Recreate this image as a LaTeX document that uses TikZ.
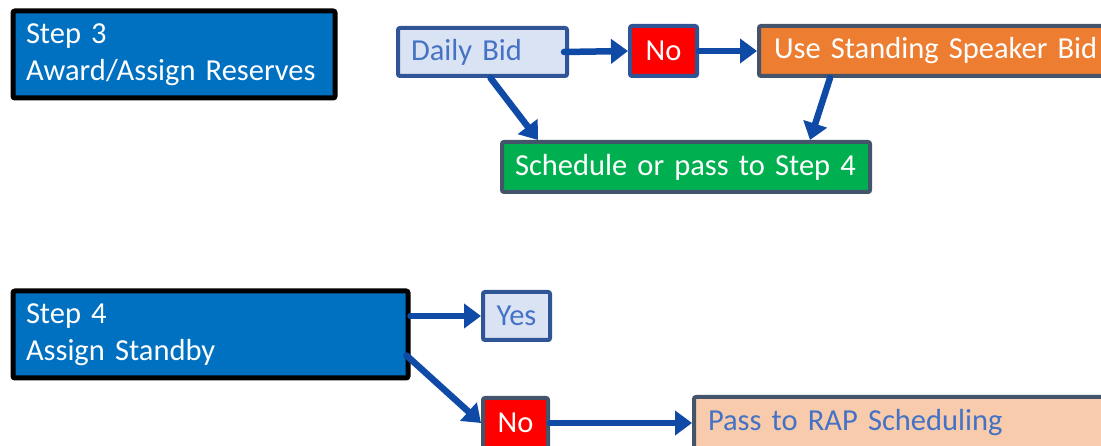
\documentclass[tikz,border=0pt]{standalone}
\usepackage{fontspec}
\setmainfont{Carlito}
\usetikzlibrary{arrows.meta}

\definecolor{stepblue}{HTML}{0070C0}
\definecolor{paleblue}{HTML}{DAE3F3}
\definecolor{lineblue}{HTML}{2F5597}
\definecolor{textblue}{HTML}{4472C4}
\definecolor{slate}{HTML}{44546A}
\definecolor{orangebox}{HTML}{ED7D31}
\definecolor{peach}{HTML}{F8CBAD}
\definecolor{greenbox}{HTML}{00B050}
\definecolor{noRed}{HTML}{FF0000}
\definecolor{arrowblue}{HTML}{0F4AA6}

\tikzset{
  box/.style={draw, line width=4pt, rounded corners=2pt, anchor=north west,
    inner xsep=13pt, inner ysep=0pt, align=left,
    font=\fontsize{30.5}{37}\selectfont},
  stepbox/.style={box, draw=black, line width=5pt, fill=stepblue, text=white,
    minimum height=87pt},
  palebox/.style={box, draw=lineblue, fill=paleblue, text=textblue},
  nobox/.style={box, fill=noRed, text=white, inner xsep=0pt, align=center},
  flow/.style={draw=arrowblue, line width=6.5pt, line cap=round,
    -{Triangle[length=17pt,width=24pt]}},
}

\begin{document}
\begin{tikzpicture}[x=1pt,y=-1pt]
  \clip (0,0) rectangle (1101,446);

  % step 3
  \node[stepbox, text width=296pt] (step3) at (10.5,8.5)
    {Step 3\\Award/Assign Reserves};
  \node[palebox, text width=143pt, minimum height=48pt] (daily) at (396,26)
    {Daily Bid};
  \node[nobox, draw=lineblue, text width=67pt, minimum height=50pt] (no1)
    at (628,24) {No};
  \node[box, draw=slate, fill=orangebox, text=white, inner xsep=15pt,
    text width=330pt, minimum height=50pt] (speaker) at (757,24)
    {Use Standing Speaker Bid};
  \node[box, draw=slate, fill=greenbox, text=white, text width=342pt,
    minimum height=50pt] (sched) at (500,140) {Schedule or pass to Step 4};

  \draw[flow] ([xshift=-5pt]daily.east) -- (no1.west);
  \draw[flow] (no1.east) -- (speaker.west);
  \draw[flow] ([xshift=8pt]daily.south) -- ([xshift=38pt]sched.north west);
  \draw[flow] ([xshift=73pt]speaker.south west) -- ([xshift=-62pt]sched.north east);

  % step 4
  \node[stepbox, text width=369pt] (step4) at (10.5,288.5)
    {Step 4\\Assign Standby};
  \node[palebox, align=center, inner xsep=0pt, text width=67pt,
    minimum height=48pt] (yes) at (481,290) {Yes};
  \node[nobox, draw=slate, text width=65pt, minimum height=50pt] (no2)
    at (481,396) {No};
  \node[box, draw=slate, fill=peach, text=textblue, inner xsep=14pt,
    text width=412pt, minimum height=52pt] (pass) at (692,395)
    {Pass to RAP Scheduling};

  \draw[flow] (step4.east |- yes.west) -- (yes.west);
  \draw[flow] ([yshift=-67pt,xshift=-4pt]step4.north east) -- (no2.west);
  \draw[flow] (no2.east) -- (pass.west);
\end{tikzpicture}
\end{document}
